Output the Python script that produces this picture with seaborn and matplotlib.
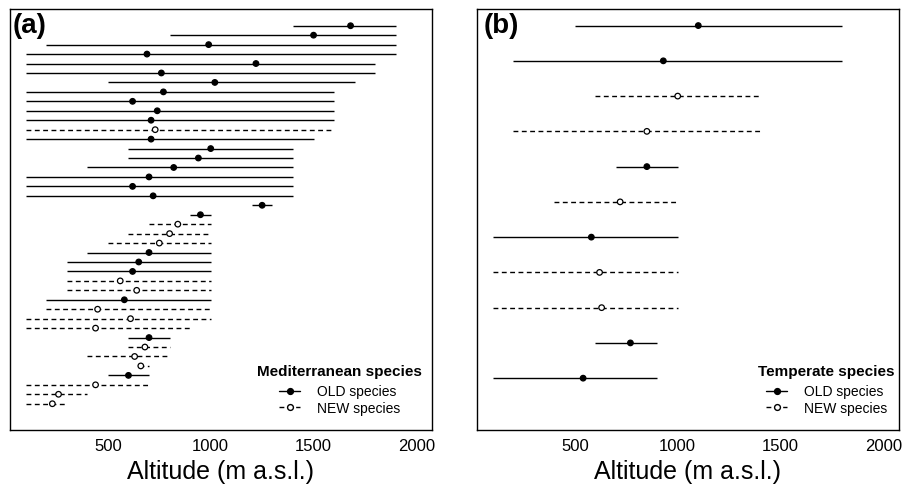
import numpy as np
import pandas as pd
import matplotlib
matplotlib.use("Agg")
import matplotlib.pyplot as plt
import seaborn as sns
from matplotlib.lines import Line2D

# ---------------- data (top to bottom) ----------------
# (a) Mediterranean species
med_status = ["OLD"] * 11 + ["NEW"] + ["OLD"] * 9 + ["NEW"] * 3 + ["OLD"] * 3 + ["NEW"] * 2 + ["OLD"] + \
             ["NEW"] * 3 + ["OLD"] + ["NEW"] * 3 + ["OLD"] + ["NEW"] * 3
med_min = [1400, 800, 200, 100, 100, 100, 500, 100, 100, 100, 100, 100, 100, 600, 600, 400, 100, 100, 100, 1200,
           900, 700, 600, 500, 400, 300, 300, 300, 300, 200, 200, 100, 100, 600, 600, 400, 650, 500, 100, 100, 100]
med_max = [1900, 1900, 1900, 1900, 1800, 1800, 1700, 1600, 1600, 1600, 1600, 1600, 1500, 1400, 1400, 1400, 1400,
           1400, 1400, 1300, 1000, 1000, 1000, 1000, 1000, 1000, 1000, 1000, 1000, 1000, 1000, 1000, 900, 800, 800,
           800, 700, 700, 700, 400, 300]
med_opt = [1680, 1500, 990, 690, 1220, 760, 1020, 770, 620, 740, 710, 730, 710, 1000, 940, 820, 700, 620, 720, 1250,
           950, 840, 800, 750, 700, 650, 620, 560, 640, 580, 450, 610, 440, 700, 680, 630, 660, 600, 440, 260, 230]

# (b) Temperate species
tem_status = ["OLD", "OLD", "NEW", "NEW", "OLD", "NEW", "OLD", "NEW", "NEW", "OLD", "OLD"]
tem_min = [500, 200, 600, 200, 700, 400, 100, 100, 100, 600, 100]
tem_max = [1800, 1800, 1400, 1400, 1000, 1000, 1000, 1000, 1000, 900, 900]
tem_opt = [1100, 930, 1000, 850, 850, 720, 580, 620, 630, 770, 540]

x_ticks = [500, 1000, 1500, 2000]
x_label = "Altitude (m a.s.l.)"

# ---------------- style ----------------
sns.set_theme(style="white")
plt.rcParams["font.family"] = ["Liberation Sans", "DejaVu Sans"]
plt.rcParams["text.color"] = "black"
plt.rcParams["legend.labelcolor"] = "black"

W, H = 904, 489
fig = plt.figure(figsize=(W / 100, H / 100), dpi=100)
ax_a = fig.add_axes([10 / W, 58 / H, 422 / W, 421 / H])
ax_b = fig.add_axes([477 / W, 58 / H, 422 / W, 421 / H])

DASH = (0, (3.5, 2.5))


def draw(ax, status, lo, hi, opt, panel, title, ylim, lab_x, leg_x):
    df = pd.DataFrame({"row": np.arange(1, len(status) + 1), "status": status,
                       "lo": lo, "hi": hi, "opt": opt})
    for st, ls in [("OLD", "solid"), ("NEW", DASH)]:
        sub = df[df["status"] == st]
        ax.hlines(sub["row"], sub["lo"], sub["hi"], colors="black",
                  linestyles=[ls], linewidth=1.0, zorder=2)
    sns.scatterplot(data=df, x="opt", y="row", hue="status",
                    palette={"OLD": "black", "NEW": "white"},
                    edgecolor="black", linewidth=0.9, s=16, zorder=3,
                    legend=False, ax=ax)
    ax.set_xlim(24, 2076)
    ax.set_ylim(*ylim)
    ax.set_xticks(x_ticks)
    ax.set_xticklabels([str(t) for t in x_ticks])
    ax.set_yticks([])
    ax.set_ylabel("")
    ax.set_xlabel(x_label, fontsize=18, labelpad=4, color="black")
    ax.tick_params(axis="x", length=0, labelsize=12, pad=6, colors="black")
    for sp in ax.spines.values():
        sp.set_visible(True)
        sp.set_color("black")
        sp.set_linewidth(1.0)
    ax.text(lab_x, 0.992, panel, transform=ax.transAxes, ha="left", va="top",
            fontsize=20, fontweight="bold", color="black")
    handles = [
        Line2D([], [], color="black", ls="solid", lw=1.0, marker="o",
               markersize=4.2, markerfacecolor="black", markeredgecolor="black"),
        Line2D([], [], color="black", ls=DASH, lw=1.0, marker="o",
               markersize=4.2, markerfacecolor="white", markeredgecolor="black"),
    ]
    leg = ax.legend(handles, ["OLD species", "NEW species"], title=title,
                    loc="lower right", bbox_to_anchor=(leg_x, 0.035),
                    frameon=False, fontsize=10, borderpad=0, borderaxespad=0,
                    handlelength=1.5, handletextpad=1.2, labelspacing=0.2,
                    title_fontproperties={"weight": "bold", "size": 11})
    leg.get_title().set_color("black")
    leg._legend_box.sep = 5


draw(ax_a, med_status, med_min, med_max, med_opt, "(a)", "Mediterranean species",
     (43.78, -0.77), 0.006, 0.977)
draw(ax_b, tem_status, tem_min, tem_max, tem_opt, "(b)", "Temperate species",
     (12.47, 0.53), 0.016, 0.99)

fig.savefig("out.png", dpi=100, facecolor="white")
